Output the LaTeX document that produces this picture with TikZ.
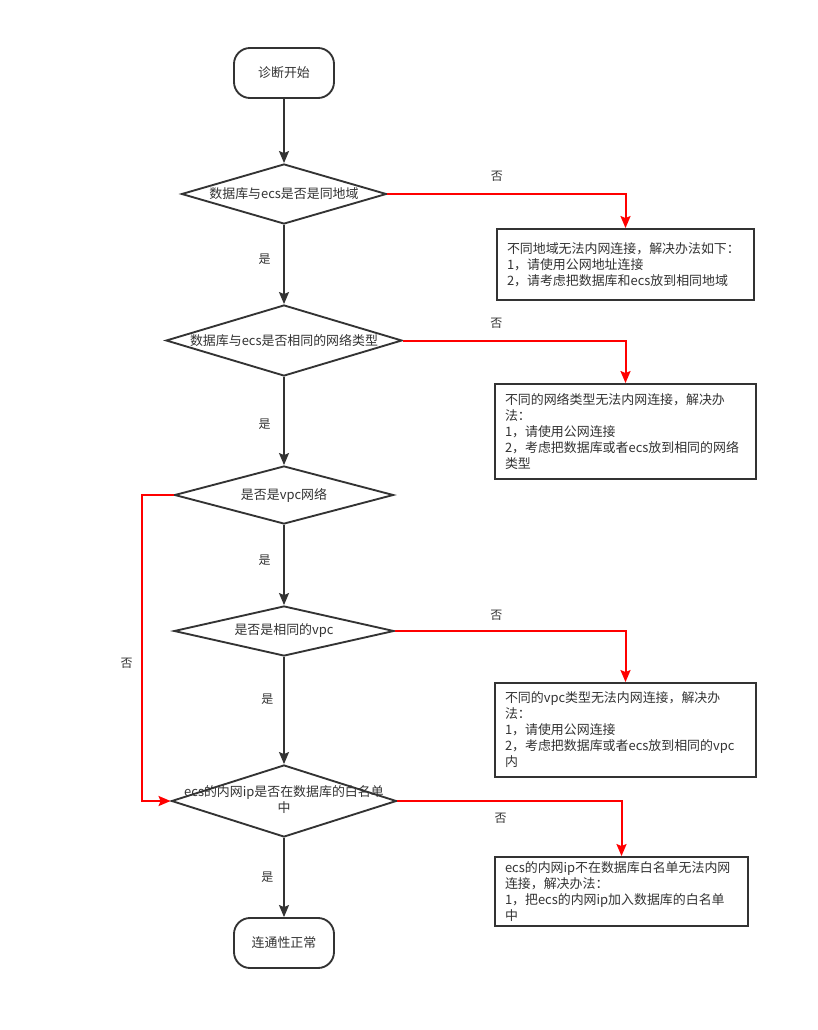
\documentclass[tikz,border=0pt]{standalone}
\usepackage{fontspec}
\setmainfont{Noto Sans CJK SC}
\usepackage{tikz}
\usetikzlibrary{arrows.meta, positioning, shapes.geometric}
\definecolor{dark}{HTML}{333333}
\definecolor{noline}{HTML}{FF0000}
\tikzset{
    termnode/.style={
        rectangle, rounded corners=12pt, draw=dark, fill=white,
        minimum width=75pt, minimum height=37.5pt,
        font=\fontsize{9.7}{12}\selectfont, text=dark, line width=1.4pt
    },
    decnode/.style={
        diamond, draw=dark, fill=white, inner sep=0pt,
        line width=1.4pt, text=dark
    },
    declab/.style={
        font=\fontsize{9.7}{12}\selectfont, text=dark, align=center
    },
    notebox/.style={
        rectangle, draw=dark, fill=white, line width=1.4pt,
        inner xsep=7.5pt, inner ysep=0pt, align=left,
        font=\fontsize{9.7}{12}\selectfont, text=dark
    },
    yesarrow/.style={
        -{Stealth[length=9pt, width=7.5pt, inset=1.5pt]}, line width=1.4pt, color=dark
    },
    noarrow/.style={
        -{Stealth[length=9pt, width=7.5pt, inset=1.5pt]}, line width=1.5pt, color=noline
    },
    edgelab/.style={
        font=\fontsize{9}{11}\selectfont, text=dark
    },
}
\begin{document}
\begin{tikzpicture}[x=0.75pt, y=-0.75pt]

    \useasboundingbox (0,0) rectangle (817,1030);

    % Main column
    \node[termnode] (start) at (284,73) {诊断开始};
    \node[decnode, minimum width=153.75pt, minimum height=45pt] (region) at (284,194) {};
    \node[decnode, minimum width=177pt, minimum height=53.25pt] (nettype) at (284,340.5) {};
    \node[decnode, minimum width=164.25pt, minimum height=43.5pt] (isvpc) at (284,495) {};
    \node[decnode, minimum width=165pt, minimum height=37.5pt] (samevpc) at (284,631) {};
    \node[decnode, minimum width=168.75pt, minimum height=54pt] (whitelist) at (284,801) {};
    \node[termnode] (ok) at (284,943) {连通性正常};

    % Diamond texts
    \node[declab] at (region.center) {数据库与ecs是否是同地域};
    \node[declab] at (nettype.center) {数据库与ecs是否相同的网络类型};
    \node[declab] at (isvpc.center) {是否是vpc网络};
    \node[declab] at (samevpc.center) {是否是相同的vpc};
    \node[declab, yshift=1pt] at (whitelist.center) {ecs的内网ip是否在数据库的白名单\\中};

    % Right column: solutions
    \node[notebox, text width=177.75pt, minimum height=53.25pt] (sol1) at (625.5,264.5)
        {不同地域无法内网连接，解决办法如下：\\1，请使用公网地址连接\\2，请考虑把数据库和ecs放到相同地域};
    \node[notebox, text width=180.75pt, minimum height=71.25pt] (sol2) at (625.5,431.5)
        {不同的网络类型无法内网连接，解决办\\法：\\1，请使用公网连接\\2，考虑把数据库或者ecs放到相同的网络\\类型};
    \node[notebox, text width=180.75pt, minimum height=70.5pt] (sol3) at (625.5,730)
        {不同的vpc类型无法内网连接，解决办\\法：\\1，请使用公网连接\\2，考虑把数据库或者ecs放到相同的vpc\\内};
    \node[notebox, text width=174.75pt, minimum height=51.75pt] (sol4) at (621.5,891.5)
        {ecs的内网ip不在数据库白名单无法内网\\连接，解决办法：\\1，把ecs的内网ip加入数据库的白名单\\中};

    % Yes flow
    \draw[yesarrow] (start) -- (region);
    \draw[yesarrow] (region) -- node[edgelab, left=6pt, pos=0.43] {是} (nettype);
    \draw[yesarrow] (nettype) -- node[edgelab, left=6pt, pos=0.54] {是} (isvpc);
    \draw[yesarrow] (isvpc) -- node[edgelab, left=6pt, pos=0.44] {是} (samevpc);
    \draw[yesarrow] (samevpc) -- node[edgelab, left=4pt, pos=0.39] {是} (whitelist);
    \draw[yesarrow] (whitelist) -- node[edgelab, left=4pt, pos=0.49] {是} (ok);

    % No flow
    \draw[noarrow] (region.east) -- node[edgelab, above=5pt, pos=0.46] {否} (sol1.north |- region.east) -- (sol1.north);
    \draw[noarrow] (nettype.east) -- node[edgelab, above=5pt, pos=0.42] {否} (sol2.north |- nettype.east) -- (sol2.north);
    \draw[noarrow] (samevpc.east) -- node[edgelab, above=4pt, pos=0.44] {否} (sol3.north |- samevpc.east) -- (sol3.north);
    \draw[noarrow] (whitelist.east) -- node[edgelab, below=5pt, pos=0.46] {否} (sol4.north |- whitelist.east) -- (sol4.north);
    \coordinate (bypass) at (142,495);
    \draw[noarrow] (isvpc.west) -- (bypass) -- node[edgelab, left=3pt, pos=0.55] {否} (bypass |- whitelist.west) -- (whitelist.west);

\end{tikzpicture}
\end{document}
